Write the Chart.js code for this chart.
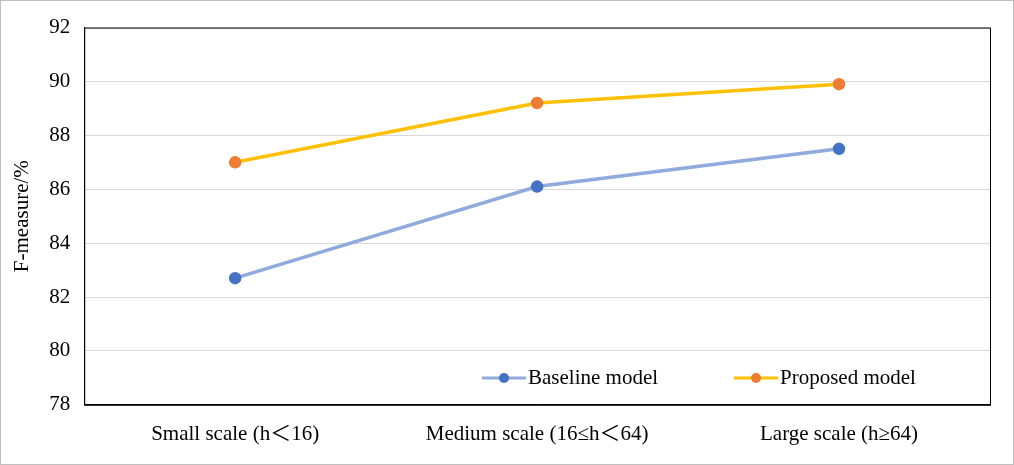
<!DOCTYPE html>
<html><head><meta charset="utf-8">
<script src="https://cdn.jsdelivr.net/npm/chart.js@4/dist/chart.umd.min.js"></script>
<style>
html,body{margin:0;padding:0;background:#fff;}
#wrap{width:1012px;height:463px;border:1px solid #bfbfbf;}
</style></head><body>
<div id="wrap"><canvas id="c" width="1012" height="463"></canvas></div>
<script>
const categories = ['Small scale (h\uFF1C16)', 'Medium scale (16\u2264h\uFF1C64)', 'Large scale (h\u226564)'];
const baselineValues = [82.7, 86.1, 87.5];
const proposedValues = [87.0, 89.2, 89.9];
const yTicks = [78, 80, 82, 84, 86, 88, 90, 92];
const FONT = '"Liberation Serif", "Times New Roman", "Noto Sans CJK SC", serif';

const boxAndLegend = {
  id: 'boxAndLegend',
  afterDraw(chart) {
    const c = chart.ctx, a = chart.chartArea;
    c.save();
    c.strokeStyle = '#000'; c.lineWidth = 1;
    c.strokeRect(a.left + 0.5, a.top + 0.5, a.right - a.left, a.bottom - a.top);
    c.font = '21px ' + FONT; c.textBaseline = 'middle'; c.fillStyle = '#000';
    const y = 377;
    const starts = [481, 733];
    chart.data.datasets.forEach((ds, i) => {
      const x = starts[i];
      c.strokeStyle = ds.borderColor; c.lineWidth = 3;
      c.beginPath(); c.moveTo(x, y); c.lineTo(x + 44, y); c.stroke();
      c.fillStyle = ds.pointBackgroundColor;
      c.beginPath(); c.arc(x + 22, y, 5, 0, Math.PI * 2); c.fill();
      c.fillStyle = '#000';
      c.fillText(ds.label, x + 46, y);
    });
    c.restore();
  }
};

new Chart(document.getElementById('c'), {
  type: 'line',
  data: {
    labels: categories,
    datasets: [
      { label: 'Baseline model', data: baselineValues, borderColor: '#8faadc', borderWidth: 3.5,
        pointBackgroundColor: '#4472c4', pointBorderColor: '#4472c4', pointRadius: 4.5, tension: 0 },
      { label: 'Proposed model', data: proposedValues, borderColor: '#ffc000', borderWidth: 3.5,
        pointBackgroundColor: '#ed7d31', pointBorderColor: '#ed7d31', pointRadius: 4.5, tension: 0 }
    ]
  },
  options: {
    responsive: false, animation: false,
    layout: { padding: { top: 26, right: 23, left: 9, bottom: 8 } },
    plugins: { legend: { display: false }, tooltip: { enabled: false } },
    scales: {
      x: { offset: true, grid: { display: false }, border: { color: '#000' },
        ticks: { color: '#000', font: { family: FONT, size: 21 }, padding: 9 } },
      y: { min: 78, max: 92, afterBuildTicks: s => { s.ticks = yTicks.map(v => ({ value: v })); },
        grid: { color: '#d9d9d9', drawTicks: false }, border: { color: '#000' },
        ticks: { color: '#000', font: { family: FONT, size: 21 }, padding: 14 },
        title: { display: true, text: 'F-measure/%', color: '#000', font: { family: FONT, size: 21 }, padding: 0 } }
    }
  },
  plugins: [boxAndLegend]
});
</script>
</body></html>
